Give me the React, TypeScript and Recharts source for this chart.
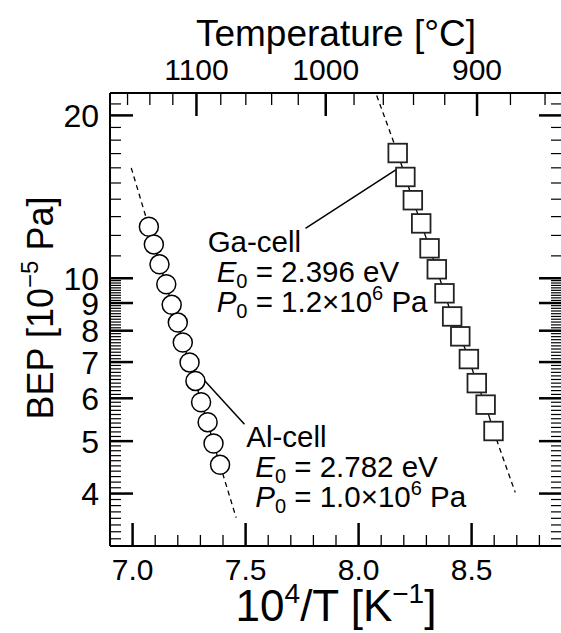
import { ComposedChart, Line, Scatter, XAxis, YAxis } from "recharts";

const FONT = "'Liberation Sans', Arial, Helvetica, sans-serif";

// Al-cell, circles: 10^4/T [1/K] and BEP [1e-5 Pa]
const alX = [7.072, 7.094, 7.119, 7.149, 7.173, 7.2, 7.222, 7.252, 7.278, 7.303, 7.332, 7.358, 7.387];
const alBep = [12.45, 11.55, 10.61, 9.75, 8.93, 8.28, 7.61, 6.99, 6.46, 5.9, 5.42, 4.95, 4.52];

// Ga-cell, squares
const gaX = [8.173, 8.207, 8.24, 8.277, 8.314, 8.346, 8.38, 8.414, 8.45, 8.488, 8.523, 8.562, 8.597];
const gaBep = [17.04, 15.39, 13.94, 12.63, 11.36, 10.39, 9.38, 8.5, 7.81, 7.09, 6.4, 5.84, 5.22];

// dashed extrapolation of the Arrhenius fits (outer end, first/last point)
const alFitHigh = [{ x: 6.994, y: 16.0 }, { x: 7.072, y: 12.45 }];
const alFitLow = [{ x: 7.387, y: 4.52 }, { x: 7.458, y: 3.61 }];
const gaFitHigh = [{ x: 8.08, y: 21.77 }, { x: 8.173, y: 17.04 }];
const gaFitLow = [{ x: 8.597, y: 5.22 }, { x: 8.693, y: 4.02 }];

// leader lines from the notes to the data
const gaLeader = [{ x: 7.765, y: 12.36 }, { x: 8.173, y: 15.95 }];
const alLeader = [{ x: 7.318, y: 6.47 }, { x: 7.495, y: 5.37 }];

// note anchors (baseline of first line)
const gaNote = [{ x: 7.332, y: 11.18, name: "Ga-cell", e0: "2.396", p0: "1.2" }];
const alNote = [{ x: 7.503, y: 4.87, name: "Al-cell", e0: "2.782", p0: "1.0" }];

const xDomain = [6.9, 8.9];
const yDomain = [3.2, 22];
const xLabelTicks = [7.0, 7.5, 8.0, 8.5];
const yLabelTicks = [4, 5, 6, 7, 8, 9, 10, 20];
const tempLabels = [1100, 1000, 900];
const tempMinor = [1160, 1140, 1120, 1100, 1080, 1060, 1040, 1020, 1000, 980, 960, 940, 920, 900, 880, 860];

const xTicks: number[] = [];
for (let i = 70; i <= 88; i++) xTicks.push(i / 10);
const yTicks: number[] = [];
for (let i = 33; i < 100; i++) yTicks.push(i / 10);
for (let i = 10; i <= 21; i++) yTicks.push(i);
const topTicks = tempMinor.map((t) => 1e4 / (t + 273.15));

const toPts = (xs: number[], ys: number[]) => xs.map((x, i) => ({ x, y: ys[i] }));
const alData = toPts(alX, alBep);
const gaData = toPts(gaX, gaBep);

const near = (arr: number[], v: number) => arr.some((a) => Math.abs(a - v) < 1e-6);

function BottomTick({ x, y, payload }: any) {
  const v = Math.round(payload.value * 10) / 10;
  const major = near(xLabelTicks, v);
  return (
    <g>
      <line x1={x} x2={x} y1={y} y2={y - (major ? 23 : 11)} stroke="#000" strokeWidth={major ? 2.5 : 1.3} />
      {major && (
        <text x={x} y={y + 34} textAnchor="middle" fontSize={30} fill="#000" fontFamily={FONT}>
          {v.toFixed(1)}
        </text>
      )}
    </g>
  );
}

function TopTick({ x, y, payload }: any) {
  const t = Math.round(1e4 / payload.value - 273.15);
  const major = near(tempLabels, t);
  return (
    <g>
      <line x1={x} x2={x} y1={y} y2={y + (major ? 23 : 12)} stroke="#000" strokeWidth={major ? 2.5 : 1.3} />
      {major && (
        <text x={x} y={y - 13} textAnchor="middle" fontSize={30} fill="#000" fontFamily={FONT}>
          {t}
        </text>
      )}
    </g>
  );
}

function LeftTick({ x, y, payload }: any) {
  const v = Math.round(payload.value * 10) / 10;
  const major = near(yLabelTicks, v);
  return (
    <g>
      <line x1={x} x2={x + (major ? 23 : 11)} y1={y} y2={y} stroke="#000" strokeWidth={major ? 2.5 : 1.2} />
      {major && (
        <text x={x - 11} y={y} dy="0.36em" textAnchor="end" fontSize={32} fill="#000" fontFamily={FONT}>
          {v}
        </text>
      )}
    </g>
  );
}

function RightTick({ x, y, payload }: any) {
  const v = Math.round(payload.value * 10) / 10;
  const major = near(yLabelTicks, v);
  return <line x1={x} x2={x - (major ? 23 : 11)} y1={y} y2={y} stroke="#000" strokeWidth={major ? 2.5 : 1.2} />;
}

function NoteBlock(props: any) {
  const { cx, cy, payload } = props;
  const ind = 9;
  return (
    <g fontFamily={FONT} fontSize={29.5} fill="#000">
      <text x={cx} y={cy}>{payload.name}</text>
      <text x={cx + ind} y={cy + 30}>
        <tspan fontStyle="italic">E</tspan>
        <tspan fontSize={20} dy={6}>0</tspan>
        <tspan dy={-6}>{` = ${payload.e0} eV`}</tspan>
      </text>
      <text x={cx + ind} y={cy + 60}>
        <tspan fontStyle="italic">P</tspan>
        <tspan fontSize={20} dy={6}>0</tspan>
        <tspan dy={-6}>{` = ${payload.p0}×10`}</tspan>
        <tspan fontSize={20} dy={-12}>6</tspan>
        <tspan dy={12}>{" Pa"}</tspan>
      </text>
    </g>
  );
}

const circleDot = (p: any) => (
  <circle key={`c${p.index}`} cx={p.cx} cy={p.cy} r={9.5} fill="#fff" stroke="#000" strokeWidth={1.5} />
);
const squareDot = (p: any) => (
  <rect key={`s${p.index}`} x={p.cx - 9.3} y={p.cy - 9.3} width={18.6} height={18.6} fill="#fff" stroke="#222" strokeWidth={1.8} />
);

const axisLine = { stroke: "#000", strokeWidth: 2 };

export default function App() {
  return (
    <div style={{ position: "absolute", left: 0, top: 0, width: 561, height: 633, overflow: "hidden", background: "#fff" }}>
      <ComposedChart width={564} height={633} margin={{ top: 0, right: 0, bottom: 0, left: 0 }}>
        <XAxis
          xAxisId="b"
          dataKey="x"
          type="number"
          domain={xDomain}
          allowDataOverflow
          ticks={xTicks}
          interval={0}
          tickSize={0}
          tickMargin={0}
          tickLine={false}
          tick={BottomTick}
          axisLine={axisLine}
          height={87}
          label={(p: any) => {
            const vb = p.viewBox || { x: 110, y: 546, width: 452 };
            return (
              <text x={vb.x + vb.width / 2} y={vb.y + 75} textAnchor="middle" fontSize={44} fontFamily={FONT} fill="#000">
                10<tspan fontSize={28} dy={-18}>4</tspan>
                <tspan dy={18}>/T [K</tspan>
                <tspan fontSize={28} dy={-18}>−1</tspan>
                <tspan dy={18}>]</tspan>
              </text>
            );
          }}
        />
        <XAxis
          xAxisId="t"
          dataKey="x"
          orientation="top"
          type="number"
          domain={xDomain}
          allowDataOverflow
          ticks={topTicks}
          interval={0}
          tickSize={0}
          tickMargin={0}
          tickLine={false}
          tick={TopTick}
          axisLine={axisLine}
          height={93}
          label={(p: any) => {
            const vb = p.viewBox || { x: 110, y: 0, width: 452 };
            return (
              <text x={vb.x + vb.width / 2} y={46} textAnchor="middle" fontSize={37} fontFamily={FONT} fill="#000">
                Temperature [°C]
              </text>
            );
          }}
        />
        <YAxis
          yAxisId="l"
          type="number"
          scale="log"
          domain={yDomain}
          allowDataOverflow
          ticks={yTicks}
          interval={0}
          tickSize={0}
          tickMargin={0}
          tickLine={false}
          tick={LeftTick}
          axisLine={axisLine}
          width={110}
          label={() => (
            <text x={53} y={308} transform="rotate(-90 53 308)" textAnchor="middle" fontSize={36} fontFamily={FONT} fill="#000">
              BEP [10<tspan fontSize={24} dy={-15}>−5</tspan>
              <tspan dy={15}> Pa]</tspan>
            </text>
          )}
        />
        <YAxis
          yAxisId="r"
          orientation="right"
          type="number"
          scale="log"
          domain={yDomain}
          allowDataOverflow
          ticks={yTicks}
          interval={0}
          tickSize={0}
          tickMargin={0}
          tickLine={false}
          tick={RightTick}
          axisLine={axisLine}
          width={2}
        />

        {/* invisible series so the temperature axis gets a scale */}
        <Line
          xAxisId="t"
          yAxisId="r"
          data={gaData}
          dataKey="y"
          stroke="none"
          dot={false}
          activeDot={false}
          isAnimationActive={false}
        />

        {[alFitHigh, alFitLow, gaFitHigh, gaFitLow].map((d, i) => (
          <Line
            key={`fit${i}`}
            xAxisId="b"
            yAxisId="l"
            data={d}
            dataKey="y"
            type="linear"
            stroke="#000"
            strokeWidth={1.3}
            strokeDasharray="5 4"
            dot={false}
            activeDot={false}
            isAnimationActive={false}
          />
        ))}
        {[gaLeader, alLeader].map((d, i) => (
          <Line
            key={`lead${i}`}
            xAxisId="b"
            yAxisId="l"
            data={d}
            dataKey="y"
            type="linear"
            stroke="#000"
            strokeWidth={1.5}
            dot={false}
            activeDot={false}
            isAnimationActive={false}
          />
        ))}
        <Line
          xAxisId="b"
          yAxisId="l"
          data={alData}
          dataKey="y"
          type="linear"
          stroke="#000"
          strokeWidth={1.3}
          dot={circleDot}
          activeDot={false}
          isAnimationActive={false}
        />
        <Line
          xAxisId="b"
          yAxisId="l"
          data={gaData}
          dataKey="y"
          type="linear"
          stroke="#000"
          strokeWidth={1.3}
          dot={squareDot}
          activeDot={false}
          isAnimationActive={false}
        />
        <Scatter xAxisId="b" yAxisId="l" data={gaNote} dataKey="y" shape={NoteBlock} isAnimationActive={false} />
        <Scatter xAxisId="b" yAxisId="l" data={alNote} dataKey="y" shape={NoteBlock} isAnimationActive={false} />
      </ComposedChart>
    </div>
  );
}
